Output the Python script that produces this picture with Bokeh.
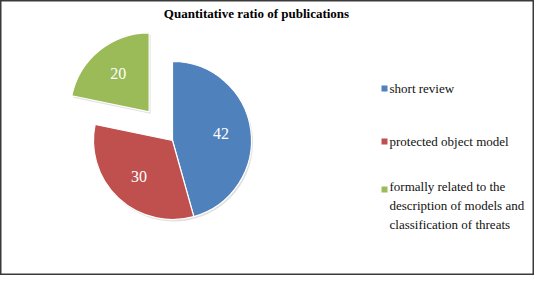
import math
from bokeh.plotting import figure
from bokeh.models import Range1d, ColumnDataSource
from bokeh.core.properties import value
from bokeh.embed import file_html
from bokeh.resources import INLINE

title_text = "Quantitative ratio of publications"
categories = ["short review", "protected object model",
              "formally related to the\ndescription of models and\nclassification of threats"]
values = [42, 30, 20]
colors = ["#4F81BD", "#C0504D", "#9BBB59"]
explode = [0, 0, 37]

W, H = 534, 275
p = figure(width=W, height=H, output_backend="svg", toolbar_location=None,
           x_range=Range1d(0, W), y_range=Range1d(0, H), min_border=0,
           outline_line_color="#3a3a3a", outline_line_width=2)
p.axis.visible = False
p.grid.visible = False
p.background_fill_color = "white"

cx, cy, R = 172, 135, 79
total = sum(values)
xs, ys, starts, ends, lx, ly = [], [], [], [], [], []
acc = 0.0
for v, e in zip(values, explode):
    t1 = acc / total * 2 * math.pi
    t2 = (acc + v) / total * 2 * math.pi
    mid = (t1 + t2) / 2
    ox = cx + e * math.sin(mid)
    oy = cy + e * math.cos(mid)
    xs.append(ox); ys.append(oy)
    starts.append(math.pi / 2 - t2); ends.append(math.pi / 2 - t1)
    lx.append(ox + 0.62 * R * math.sin(mid)); ly.append(oy + 0.62 * R * math.cos(mid))
    acc += v

src = ColumnDataSource(dict(x=xs, y=ys, sx=[x + 1.5 for x in xs], sy=[y - 2 for y in ys],
                            start=starts, end=ends, color=colors,
                            lx=lx, ly=ly, label=[str(v) for v in values]))
p.wedge(x="sx", y="sy", radius=R, start_angle="start", end_angle="end", source=src,
        fill_color="#000000", fill_alpha=0.12, line_color=None)
p.wedge(x="x", y="y", radius=R, start_angle="start", end_angle="end", source=src,
        fill_color="color", line_color="white", line_width=1.2)
p.text(x="lx", y="ly", text="label", source=src, text_color="white",
       text_font=value("Liberation Serif"), text_font_size="16px",
       text_align="center", text_baseline="middle")

p.text(x=[256], y=[262], text=[title_text], text_font=value("Liberation Serif"),
       text_font_style="bold", text_font_size="13px", text_color="black",
       text_align="center", text_baseline="middle")

leg_y = [187, 134, 86]
p.rect(x=[384] * 3, y=leg_y, width=6, height=6, fill_color=colors, line_color=None)
p.text(x=[389] * 3, y=leg_y, text=categories, text_font=value("Liberation Serif"),
       text_font_size="13px", text_color="#111111", text_align="left",
       text_baseline="middle", text_line_height=1.25, y_offset=[0, 0, 16])

open("out.html", "w").write(file_html(p, INLINE))
